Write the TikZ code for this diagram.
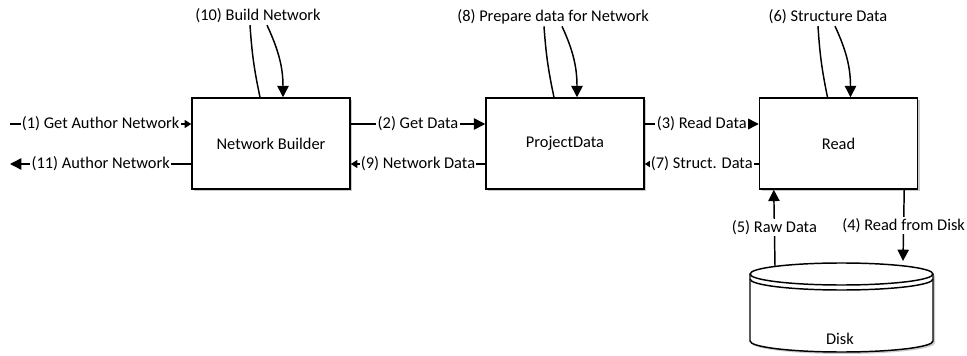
\documentclass[tikz,border=0pt]{standalone}
\usepackage{fontspec}
\setmainfont{Carlito}
\usetikzlibrary{arrows.meta,calc,shadows}

\begin{document}
\begin{tikzpicture}[x=0.75pt, y=-0.75pt, line width=1.1pt, font=\fontsize{12.3}{14}\selectfont]
\tikzstyle{block}=[draw, fill=white, minimum width=118.5pt, minimum height=68.25pt,
  drop shadow={shadow xshift=1.5pt, shadow yshift=-1.5pt, fill=black!35, opacity=0.6}]
\tikzstyle{lbl}=[fill=white, inner sep=1pt]
\tikzstyle{big}=[-{Triangle[length=8.5pt,width=8.5pt]}]
\tikzstyle{small}=[-{Triangle[length=5pt,width=6pt]}]
\useasboundingbox (0,0) rectangle (967,356);
\node[block] (nb) at (271,143.5) {Network Builder};
\node[block] (pd) at (565,143.5) {ProjectData};
\node[block] (rd) at (838.5,143.5) {Read};
\node[lbl] (nbl) at (258,16) {(10) Build Network};
\node[lbl] (pdl) at (553,17) {(8) Prepare data for Network};
\node[lbl] (rdl) at (828,17) {(6) Structure Data};
% self loops
\draw ($(nb.north)+(-11,0)$) to[bend left=4] ($(nbl.south)+(-8,0)$);
\draw[big] ($(nbl.south)+(9,0)$) to[out=-65,in=90] ($(nb.north)+(12,0)$);
\draw ($(pd.north)+(-11,0)$) to[bend left=4] ($(pdl.south)+(-9,0)$);
\draw[big] ($(pdl.south)+(9,0)$) to[out=-65,in=90] ($(pd.north)+(12,0)$);
\draw ($(rd.north)+(-11,0)$) to[bend left=4] ($(rdl.south)+(-10,0)$);
\draw[big] ($(rdl.south)+(7,0)$) to[out=-65,in=90] ($(rd.north)+(12,0)$);
% horizontal flows
\coordinate (in1) at (10,124);
\coordinate (out11) at (10,164);
\draw[small] (in1) -- node[lbl] {(1) Get Author Network} ($(nb.west)+(0,-19.5)$);
\draw[big] ($(nb.west)+(0,20.5)$) -- node[lbl] {(11) Author Network} (out11);
\draw[big] ($(nb.east)+(0,-19.5)$) -- node[lbl] {(2) Get Data} ($(pd.west)+(0,-19.5)$);
\draw[small] ($(pd.west)+(0,20.5)$) -- node[lbl] {(9) Network Data} ($(nb.east)+(0,20.5)$);
\draw[big] ($(pd.east)+(0,-19.5)$) -- node[lbl] {(3) Read Data} ($(rd.west)+(0,-19.5)$);
\draw[small] ($(rd.west)+(0,20.5)$) -- node[lbl] {(7) Struct. Data} ($(pd.east)+(0,20.5)$);
% disk
\fill[black!35, opacity=0.6, shift={(2,2)}] (750,274) -- (750,341) arc[start angle=180, end angle=0, x radius=91.5, y radius=11]
  -- (933,274) arc[start angle=0, end angle=-180, x radius=91.5, y radius=11] -- cycle;
\draw[fill=white] (750,274) -- (750,341) arc[start angle=180, end angle=0, x radius=91.5, y radius=11]
  -- (933,274) arc[start angle=0, end angle=-180, x radius=91.5, y radius=11] -- cycle;
\draw (750,274) arc[start angle=180, end angle=0, x radius=91.5, y radius=11];
\draw (750,279) arc[start angle=180, end angle=0, x radius=91.5, y radius=11];
\node (disk) at (840,339) {Disk};
\coordinate (dtopl) at (775,266);
\coordinate (dtopr) at (903,261);
\draw[big] (dtopl) -- node[lbl] {(5) Raw Data} ($(rd.south west)+(15,0)$);
\draw[big] ($(rd.south east)+(-14,0)$) -- node[lbl] {(4) Read from Disk} (dtopr);
\end{tikzpicture}
\end{document}
